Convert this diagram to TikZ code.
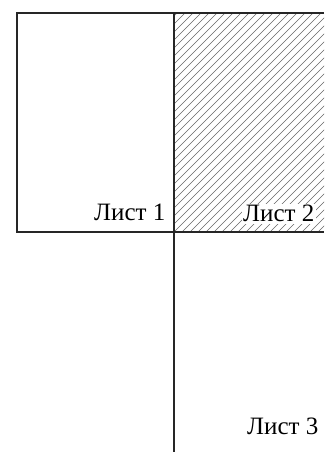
\documentclass[tikz,border=0pt]{standalone}
\usepackage{fontspec}
\setmainfont{Liberation Serif}
\usepackage{tikz}
\usetikzlibrary{positioning}

\begin{document}
\begin{tikzpicture}[
  x=1pt, y=1pt,
  edge/.style={line width=1.2pt, color=black!85},
  hatch/.style={line width=0.5pt, color=black!60},
  sheetlbl/.style={font=\fontsize{25}{28}\selectfont, inner sep=1.5pt, anchor=base east},
]
  \useasboundingbox (0,0) rectangle (324,452);

  % hatched sheet: top-right
  \begin{scope}
    \clip (174,220) rectangle (324,439);
    \foreach \i in {-224,-216,...,160}
      \draw[hatch] (174+\i,220) -- ++(225,225);
  \end{scope}

  % corner points
  \coordinate (TL) at (17,439);
  \coordinate (TR) at (324,439);
  \coordinate (BL) at (17,220);
  \coordinate (BR) at (324,220);
  \coordinate (MT) at (174,439);
  \coordinate (MB) at (174,0);

  % sheet borders
  \draw[edge] (TR) -- (TL) -- (BL) -- (BR);
  \draw[edge] (MT) -- (MB);

  % labels
  \node[sheetlbl] (L1) at (167,231) {Лист 1};
  \node[sheetlbl, fill=white] (L2) at (316,230) {Лист 2};
  \node[sheetlbl] (L3) at (320,17) {Лист 3};

\end{tikzpicture}
\end{document}
